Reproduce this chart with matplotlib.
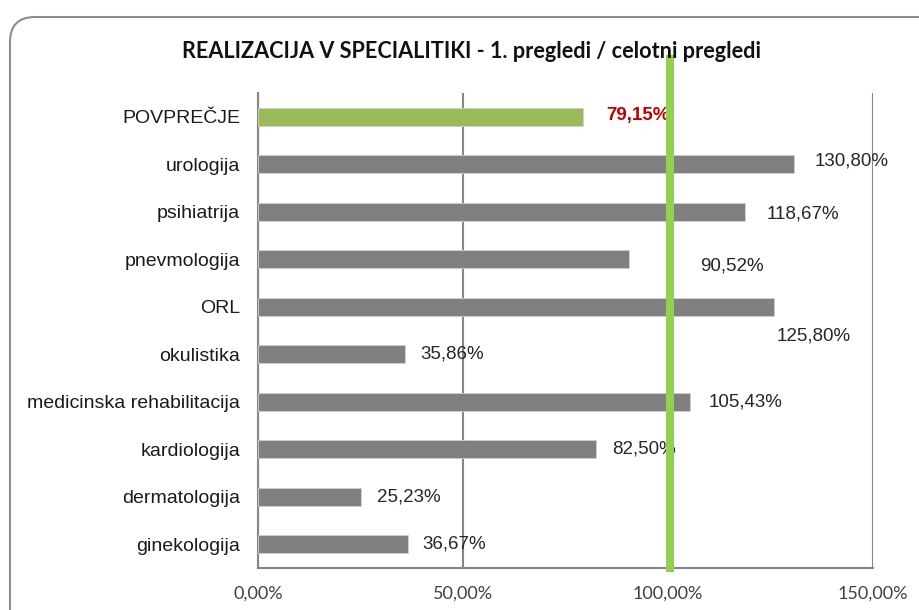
import numpy as np
import matplotlib
matplotlib.use('Agg')
import matplotlib.pyplot as plt
from matplotlib.patches import FancyBboxPatch
from matplotlib.transforms import IdentityTransform

# podatki (od zgoraj navzdol)
kategorije = ['POVPREČJE', 'urologija', 'psihiatrija', 'pnevmologija', 'ORL',
              'okulistika', 'medicinska rehabilitacija', 'kardiologija',
              'dermatologija', 'ginekologija']
vrednosti = [79.15, 130.80, 118.67, 90.52, 125.80, 35.86, 105.43, 82.50, 25.23, 36.67]
cilj = 100.0
xticki = [0, 50, 100, 150]

# rocni zamiki oznak (px): dx desno, dy navzdol
zamiki_x = [24, 20, 22, 71, 3, 15, 18, 16, 16, 14]
zamiki_y = [-1, -3, 2, 7, 29, 0, 0, 0, 0, 0]

def oznaka(v):
    return '{:.2f}%'.format(v).replace('.', ',')

fig = plt.figure(figsize=(9.19, 6.10), dpi=100)
ax = fig.add_axes([258/919, 1 - 568/610, (873 - 258)/919, (568 - 93)/610])

y = np.arange(len(kategorije))
barve = ['#9BBB59'] + ['#808080'] * (len(kategorije) - 1)
ax.barh(y, vrednosti, height=0.37, color=barve, edgecolor='#d0d0d0', linewidth=0.6, zorder=3)

ax.set_xlim(0, 150)
ax.set_ylim(len(kategorije) - 0.5, -0.5)
ax.set_xticks(xticki)
ax.set_xticklabels([oznaka(t) for t in xticki], family='Lato', fontsize=13, color='#404040')
ax.set_yticks(y)
ax.set_yticklabels(kategorije, family='Liberation Sans', fontsize=14, color='#1a1a1a')
ax.tick_params(length=0)
ax.tick_params(axis='y', pad=13)
ax.tick_params(axis='x', pad=13)

for s in ['top', 'right']:
    ax.spines[s].set_visible(False)
for s in ['left', 'bottom']:
    ax.spines[s].set_color('#868686')
    ax.spines[s].set_linewidth(1.5)
ax.xaxis.grid(True, color='#868686', linewidth=1.5, zorder=0)
ax.set_axisbelow(True)

for i, v in enumerate(vrednosti):
    if i == 0:
        kw = dict(color='#C00000', fontweight='bold')
    else:
        kw = dict(color='#262626')
    ax.annotate(oznaka(v), (v, i), xytext=(zamiki_x[i] * 0.72, -zamiki_y[i] * 0.72),
                textcoords='offset points', ha='left', va='center',
                family='Liberation Sans', fontsize=13.5, zorder=5, **kw)

# ciljna crta 100 %
ax.axvline(cilj, ymin=-0.008, ymax=1.08, color='#92D050', linewidth=5.8,
           solid_capstyle='butt', clip_on=False, zorder=6)
ax.lines[-1].set_transform(ax.get_xaxis_transform() + matplotlib.transforms.ScaledTranslation(2/100, 0, fig.dpi_scale_trans))

fig.text(0.513, 1 - 51/610, 'REALIZACIJA V SPECIALITIKI - 1. pregledi / celotni pregledi',
         ha='center', va='center', family='Lato', fontweight='bold', fontsize=15.6, color='#111111')

okvir = FancyBboxPatch((10, -40), 960, 593 + 40, boxstyle='round,pad=0,rounding_size=25',
                       transform=IdentityTransform(), facecolor='none',
                       edgecolor='#8c8c8c', linewidth=1.5)
fig.patches.append(okvir)

fig.savefig('out.png', dpi=100)
